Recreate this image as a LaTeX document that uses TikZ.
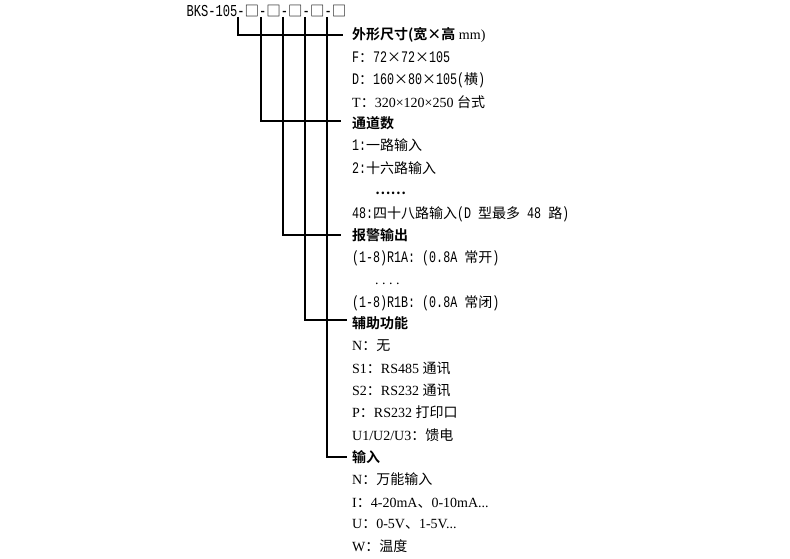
\documentclass[tikz,border=0pt]{standalone}
\usepackage{fontspec}
\setmainfont{Liberation Serif}
\newfontfamily\cjk{Noto Sans CJK SC}[BoldFont={Noto Sans CJK SC Bold}]
\newfontfamily\hw{Liberation Mono}[Scale=1.15,FakeStretch=0.725]
\newcommand\zh[1]{{\cjk #1}}
\newcommand\hd[1]{{\cjk\bfseries #1}}
\newcommand\hm[1]{{\hw #1}}
\begin{document}
\begin{tikzpicture}[x=1pt,y=-1pt,
  txt/.style={anchor=base west,inner sep=0pt,font=\fontsize{14}{16}\selectfont},
  conn/.style={line width=1.3pt,line join=miter}]
\useasboundingbox (0,0) rectangle (790,559);
% code line
\node[txt,font=\fontsize{14.5}{16}\selectfont] (code) at (186.5,17)
  {\hm{BKS-105-}\zh{□}\hm{-}\zh{□}\hm{-}\zh{□}\hm{-}\zh{□}\hm{-}\zh{□}};
% groups
\node[txt] (h1) at (352,40) {\hd{外形尺寸(宽×高} mm)};
\node[txt] (f1) at (352,62.5) {\hm{F}\zh{：}\hm{72}\zh{×}\hm{72}\zh{×}\hm{105}};
\node[txt] (f2) at (352,85) {\hm{D}\zh{：}\hm{160}\zh{×}\hm{80}\zh{×}\hm{105(}\zh{横}\hm{)}};
\node[txt] (f3) at (352,107.5) {T\zh{：}320×120×250 \zh{台式}};
\node[txt] (h2) at (352,129) {\hd{通道数}};
\node[txt] (c1) at (352,151) {\hm{1:}\zh{一路输入}};
\node[txt] (c2) at (352,174) {\hm{2:}\zh{十六路输入}};
\node[txt] (c3) at (375,194) {\hd{……}};
\node[txt] (c4) at (352,218) {\hm{48:}\zh{四十八路输入}\hm{(D\ }\zh{型最多}\hm{\ 48\ }\zh{路}\hm{)}};
\node[txt] (h3) at (352,240) {\hd{报警输出}};
\node[txt] (a1) at (352,262) {\hm{(1-8)R1A:\ (0.8A\ }\zh{常开}\hm{)}};
\node[txt] (a2) at (375,284) {.\hspace{3.5pt}.\hspace{3.5pt}.\hspace{3.5pt}.};
\node[txt] (a3) at (352,307) {\hm{(1-8)R1B:\ (0.8A\ }\zh{常闭}\hm{)}};
\node[txt] (h4) at (352,328) {\hd{辅助功能}};
\node[txt] (b1) at (352,350) {N\zh{：无}};
\node[txt] (b2) at (352,373) {S1\zh{：}RS485 \zh{通讯}};
\node[txt] (b3) at (352,395) {S2\zh{：}RS232 \zh{通讯}};
\node[txt] (b4) at (352,417) {P\zh{：}RS232 \zh{打印口}};
\node[txt] (b5) at (352,440) {U1/U2/U3\zh{：馈电}};
\node[txt] (h5) at (352,462) {\hd{输入}};
\node[txt] (d1) at (352,484) {N\zh{：万能输入}};
\node[txt] (d2) at (352,507) {I\zh{：}4-20mA\zh{、}0-10mA...};
\node[txt] (d3) at (352,528) {U\zh{：}0-5V\zh{、}1-5V...};
\node[txt] (d4) at (352,551) {W\zh{：温度}};
% connector ends
\coordinate (t1) at (238,17);
\coordinate (t2) at (261,17);
\coordinate (t3) at (283,17);
\coordinate (t4) at (305,17);
\coordinate (t5) at (327,17);
\coordinate (e1) at (343,35);
\coordinate (e2) at (341,121);
\coordinate (e3) at (341,235);
\coordinate (e4) at (347,320);
\coordinate (e5) at (347,457);
\draw[conn] (t1) |- (e1);
\draw[conn] (t2) |- (e2);
\draw[conn] (t3) |- (e3);
\draw[conn] (t4) |- (e4);
\draw[conn] (t5) |- (e5);
\end{tikzpicture}
\end{document}
